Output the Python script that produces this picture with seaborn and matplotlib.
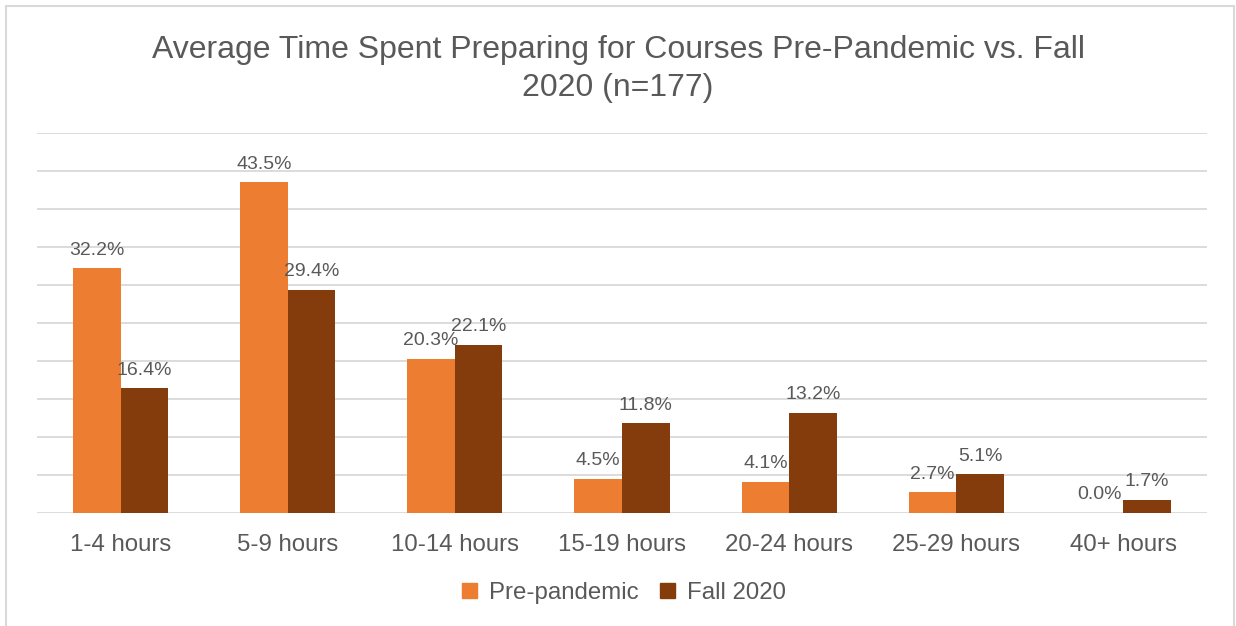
import matplotlib
matplotlib.use("Agg")
import matplotlib.pyplot as plt
import matplotlib.patches as mpatches
import seaborn as sns
import pandas as pd

categories = ["1-4 hours", "5-9 hours", "10-14 hours", "15-19 hours",
              "20-24 hours", "25-29 hours", "40+ hours"]
series_names = ["Pre-pandemic", "Fall 2020"]
pre_pandemic = [32.2, 43.5, 20.3, 4.5, 4.1, 2.7, 0.0]
fall_2020 = [16.4, 29.4, 22.1, 11.8, 13.2, 5.1, 1.7]
colors = ["#ED7D31", "#843C0C"]
title = "Average Time Spent Preparing for Courses Pre-Pandemic vs. Fall\n2020 (n=177)"

df = pd.DataFrame({
    "category": categories * 2,
    "series": [series_names[0]] * len(categories) + [series_names[1]] * len(categories),
    "value": pre_pandemic + fall_2020,
})

sns.set_theme(style="white")
plt.rcParams["font.family"] = ["Liberation Sans", "DejaVu Sans"]
text_color = "#595959"
grid_color = "#D9D9D9"

fig = plt.figure(figsize=(12.36, 6.26), dpi=100)
ax = fig.add_axes([37 / 1236, 113 / 626, 1170 / 1236, 380 / 626])

sns.barplot(data=df, x="category", y="value", hue="series", order=categories,
            hue_order=series_names, palette=colors, width=0.57, saturation=1,
            linewidth=0, ax=ax, legend=True)

ax.set_ylim(0, 50)
ax.set_yticks(range(0, 51, 5))
ax.set_yticklabels([])
ax.tick_params(axis="y", length=0)
ax.tick_params(axis="x", length=0, labelsize=17.3, labelcolor=text_color, pad=15)
ax.grid(axis="y", color=grid_color, linewidth=1.3)
ax.set_axisbelow(True)
for s in ax.spines.values():
    s.set_visible(False)
ax.set_xlabel("")
ax.set_ylabel("")
ax.set_xlim(-0.5, len(categories) - 0.5)

for cont in ax.containers:
    ax.bar_label(cont, labels=[f"{v:.1f}%" for v in cont.datavalues],
                 padding=7, fontsize=14, color=text_color)

fig.suptitle(title, fontsize=23, color=text_color, y=1 - 35 / 626, va="top",
             linespacing=1.35)

handles = [mpatches.Patch(color=c) for c in colors]
ax.legend(handles, series_names, loc="center",
          bbox_to_anchor=(0.5 + 6 / 1236, 33 / 626),
          bbox_transform=fig.transFigure, ncol=2, frameon=False, fontsize=17.3,
          labelcolor=text_color, handlelength=0.6, handleheight=0.6,
          handletextpad=0.5, columnspacing=0.9)

border = mpatches.Rectangle((6 / 1236, -0.01), 1228 / 1236, 1 - 6 / 626 + 0.01,
                            transform=fig.transFigure, fill=False,
                            edgecolor=grid_color, linewidth=1.5)
fig.patches.append(border)

fig.savefig("out.png", dpi=100, facecolor="white")
